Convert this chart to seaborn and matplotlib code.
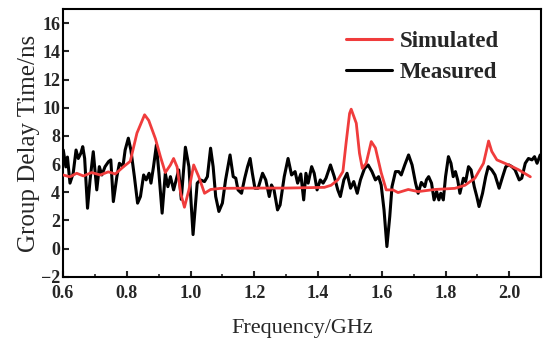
import numpy as np
import pandas as pd
import matplotlib
matplotlib.use("Agg")
import matplotlib.pyplot as plt
import seaborn as sns
from matplotlib.ticker import MultipleLocator

# Simulated group delay (ns) vs frequency (GHz)
sim_freq = [0.600, 0.622, 0.643, 0.664, 0.690, 0.717, 0.742, 0.764, 0.789, 0.811,
            0.832, 0.856, 0.869, 0.890, 0.906, 0.921, 0.937, 0.947, 0.958, 0.969,
            0.981, 0.995, 1.010, 1.026, 1.044, 1.063, 1.094, 1.200, 1.300, 1.420,
            1.441, 1.462, 1.478, 1.488, 1.499, 1.504, 1.520, 1.530, 1.539, 1.551,
            1.567, 1.580, 1.598, 1.614, 1.635, 1.651, 1.683, 1.714, 1.766, 1.829,
            1.861, 1.892, 1.919, 1.931, 1.935, 1.945, 1.961, 1.998, 2.029, 2.066]
sim_delay = [5.23, 5.10, 5.35, 5.16, 5.40, 5.23, 5.45, 5.30, 5.80, 6.20,
             8.20, 9.50, 9.10, 7.80, 6.50, 5.40, 5.94, 6.40, 5.80, 3.95,
             2.94, 4.17, 5.94, 5.10, 3.93, 4.20, 4.28, 4.30, 4.30, 4.35,
             4.50, 4.88, 5.47, 7.50, 9.60, 9.90, 8.90, 6.77, 5.70, 6.06,
             7.60, 7.15, 5.40, 4.17, 4.17, 3.98, 4.20, 4.05, 4.20, 4.28,
             4.50, 5.00, 6.06, 7.24, 7.64, 6.90, 6.30, 5.94, 5.60, 5.10]

# Measured group delay
meas_freq = [0.601, 0.609, 0.614, 0.622, 0.632, 0.641, 0.648, 0.656, 0.662, 0.668,
             0.677, 0.685, 0.695, 0.706, 0.714, 0.722, 0.732, 0.743, 0.750, 0.758,
             0.769, 0.777, 0.788, 0.795, 0.805, 0.813, 0.824, 0.834, 0.843, 0.853,
             0.861, 0.870, 0.876, 0.884, 0.893, 0.901, 0.911, 0.921, 0.929, 0.937,
             0.947, 0.963, 0.971, 0.984, 0.995, 1.008, 1.021, 1.031, 1.044, 1.053,
             1.063, 1.071, 1.079, 1.089, 1.100, 1.110, 1.124, 1.134, 1.142, 1.149,
             1.160, 1.170, 1.179, 1.187, 1.194, 1.202, 1.212, 1.226, 1.236, 1.247,
             1.254, 1.262, 1.273, 1.281, 1.294, 1.306, 1.317, 1.328, 1.336, 1.346,
             1.355, 1.362, 1.369, 1.380, 1.388, 1.397, 1.407, 1.416, 1.425, 1.439,
             1.451, 1.462, 1.470, 1.481, 1.491, 1.502, 1.512, 1.523, 1.533, 1.546,
             1.557, 1.569, 1.580, 1.590, 1.598, 1.607, 1.616, 1.625, 1.632, 1.643,
             1.653, 1.661, 1.672, 1.684, 1.695, 1.706, 1.714, 1.724, 1.735, 1.740,
             1.747, 1.756, 1.764, 1.772, 1.779, 1.785, 1.793, 1.800, 1.809, 1.817,
             1.824, 1.831, 1.838, 1.845, 1.856, 1.863, 1.872, 1.880, 1.890, 1.898,
             1.905, 1.916, 1.926, 1.934, 1.945, 1.955, 1.968, 1.979, 1.989, 1.999,
             2.008, 2.018, 2.031, 2.039, 2.050, 2.060, 2.071, 2.079, 2.087, 2.097,
             2.102]
meas_delay = [7.00, 5.80, 6.50, 4.65, 5.35, 7.00, 6.40, 6.77, 7.24, 6.40,
              2.87, 4.88, 6.88, 4.17, 5.82, 5.23, 5.82, 6.18, 6.30, 3.34,
              5.11, 6.06, 5.82, 7.00, 7.84, 7.00, 5.11, 3.23, 3.70, 5.23,
              4.88, 5.35, 4.65, 5.82, 7.36, 5.35, 2.52, 5.35, 4.40, 5.11,
              4.17, 5.59, 3.50, 7.20, 5.82, 1.00, 4.65, 4.88, 4.76, 5.11,
              7.13, 5.82, 3.70, 2.64, 3.23, 4.88, 6.65, 5.11, 5.00, 4.17,
              3.93, 5.00, 5.82, 6.40, 5.35, 4.29, 4.29, 5.35, 4.88, 3.70,
              4.52, 4.17, 2.75, 3.10, 5.11, 6.40, 5.23, 5.47, 4.65, 5.30,
              3.46, 5.35, 4.65, 5.82, 5.35, 4.17, 4.88, 4.65, 5.00, 5.94,
              5.11, 4.17, 3.70, 4.88, 5.35, 4.29, 4.76, 3.93, 4.88, 5.70,
              5.94, 5.47, 4.88, 5.11, 4.52, 2.75, 0.15, 2.28, 4.40, 5.47,
              5.47, 5.23, 5.94, 6.65, 5.94, 4.65, 3.93, 4.70, 4.40, 4.88,
              5.11, 4.65, 3.46, 4.05, 3.46, 3.93, 3.46, 5.11, 6.53, 6.06,
              5.11, 5.47, 4.88, 3.93, 5.00, 4.76, 5.82, 5.59, 4.40, 3.70,
              2.99, 3.93, 5.11, 5.82, 5.59, 5.23, 4.29, 5.11, 5.82, 5.94,
              5.82, 5.59, 4.88, 5.00, 6.06, 6.40, 6.30, 6.53, 6.06, 6.65,
              6.40]

sim_df = pd.DataFrame({"freq": sim_freq, "delay": sim_delay})
meas_df = pd.DataFrame({"freq": meas_freq, "delay": meas_delay})

sns.set_style("ticks")
plt.rcParams["font.family"] = ["Liberation Serif", "DejaVu Serif"]

fig, ax = plt.subplots(figsize=(5.5, 3.5), dpi=100)
fig.subplots_adjust(left=0.1145, right=0.984, bottom=0.209, top=0.974)

sns.lineplot(data=sim_df, x="freq", y="delay", sort=False, estimator=None,
             color="#f03c3c", linewidth=2.0, label="Simulated", ax=ax, zorder=3)
sns.lineplot(data=meas_df, x="freq", y="delay", sort=False, estimator=None,
             color="black", linewidth=2.2, label="Measured", ax=ax, zorder=2)

ax.set_xlim(0.6, 2.1)
ax.set_ylim(-2, 17)
ticks = np.round(np.arange(0.6, 2.01, 0.2), 1)
ax.set_xticks(ticks)
ax.set_xticklabels([f"{v:.1f}" for v in ticks])
ax.xaxis.set_minor_locator(MultipleLocator(0.1))
ax.yaxis.set_major_locator(MultipleLocator(2))

ax.tick_params(which="both", direction="in", top=False, right=False)
ax.tick_params(which="major", length=4, width=1.5, labelsize=13)
ax.tick_params(axis="x", which="major", pad=6)
ax.tick_params(axis="y", which="major", pad=2)
ax.tick_params(which="minor", length=2.5, width=1.2)
for lab in ax.get_xticklabels() + ax.get_yticklabels():
    lab.set_fontweight("bold")
for sp in ax.spines.values():
    sp.set_linewidth(1.5)
    sp.set_color("black")

ax.set_xlabel("Frequency/GHz", fontsize=16, labelpad=12)
ax.set_ylabel("Group Delay Time/ns", fontsize=18, labelpad=1)

leg = ax.legend(loc="upper left", bbox_to_anchor=(0.592, 0.918), frameon=False,
                prop={"weight": "bold", "size": 16.5}, handlelength=2.0,
                handletextpad=0.35, labelspacing=0.45, borderpad=0,
                borderaxespad=0)
for line in leg.get_lines():
    line.set_linewidth(2.2)

plt.savefig("out.png", dpi=100)
